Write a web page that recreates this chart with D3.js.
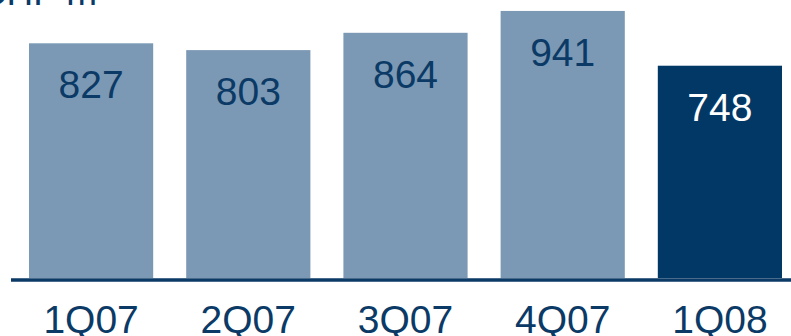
<!DOCTYPE html>
<html>
<head>
<meta charset="utf-8">
<script src="https://cdn.jsdelivr.net/npm/d3@7"></script>
<style>
  body { margin: 0; background: #fff; }
  svg { display: block; font-family: "Liberation Sans", Arial, Helvetica, sans-serif; }
</style>
</head>
<body>
<svg id="chart"></svg>
<script>
// donnees du graphique
var quarters = ["1Q07", "2Q07", "3Q07", "4Q07", "1Q08"];
var values = [827, 803, 864, 941, 748];
var highlight = [false, false, false, false, true];
var unitLabel = "CHF m";

var svgWidth = 791, svgHeight = 336;
var baseY = 278;

var svg = d3.select("#chart")
  .attr("width", svgWidth)
  .attr("height", svgHeight);

var x = d3.scaleBand()
  .domain(quarters)
  .range([29, 782])
  .paddingInner(0.21)
  .paddingOuter(0);

var y = d3.scaleLinear()
  .domain([0, 1000])
  .range([baseY, baseY - 283.8]);

// unite (coupee en haut, comme l'original)
svg.append("text")
  .attr("x", 97)
  .attr("y", 5)
  .attr("text-anchor", "end")
  .attr("font-size", 37)
  .attr("fill", "#0b3a66")
  .text(unitLabel);

var bars = svg.selectAll("g.bar")
  .data(values)
  .enter()
  .append("g")
  .attr("class", "bar");

bars.append("rect")
  .attr("x", function(d, i) { return x(quarters[i]); })
  .attr("y", function(d) { return y(d); })
  .attr("width", x.bandwidth())
  .attr("height", function(d) { return baseY - y(d); })
  .attr("fill", function(d, i) { return highlight[i] ? "#023866" : "#7b99b4"; });

bars.append("text")
  .attr("x", function(d, i) { return x(quarters[i]) + x.bandwidth() / 2; })
  .attr("y", function(d) { return y(d) + 55; })
  .attr("text-anchor", "middle")
  .attr("font-size", 39)
  .attr("fill", function(d, i) { return highlight[i] ? "#ffffff" : "#0b3a66"; })
  .text(function(d) { return d; });

// axe x
var axis = svg.append("g")
  .attr("transform", "translate(0," + (baseY + 2) + ")")
  .call(d3.axisBottom(x).tickSize(0).tickPadding(25));

axis.select(".domain").remove();
axis.append("line")
  .attr("x1", 11)
  .attr("x2", svgWidth)
  .attr("y1", 0)
  .attr("y2", 0)
  .attr("stroke", "#0b3a66")
  .attr("stroke-width", 3.5);

axis.selectAll(".tick text")
  .attr("font-size", 39)
  .attr("font-family", "'Liberation Sans', Arial, Helvetica, sans-serif")
  .attr("fill", "#0b3a66")
  .attr("dy", "0.71em");
</script>
</body>
</html>
